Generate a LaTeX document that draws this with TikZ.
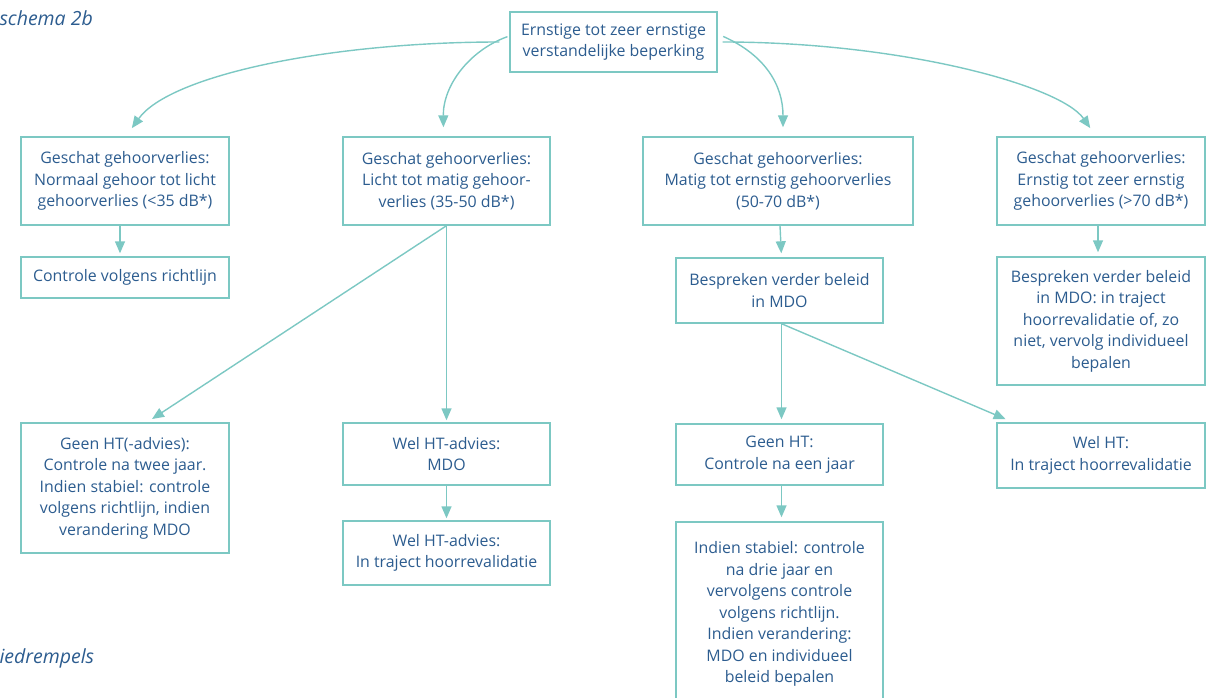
\documentclass[tikz,border=0pt]{standalone}
\usepackage{fontspec}
\setmainfont{Open Sans}
\usetikzlibrary{arrows.meta}
\definecolor{teal1}{HTML}{7CC8C3}
\definecolor{ink}{HTML}{2C5C8F}
\begin{document}
\begin{tikzpicture}[x=1pt,y=-1pt,
  every node/.style={font=\fontsize{15.9}{21.5}\selectfont,text=ink},
  box/.style={draw=teal1,line width=1.4pt,align=center,minimum width=208pt,inner sep=0pt},
  arr/.style={draw=teal1,line width=1.4pt,-{Triangle[length=12pt,width=10pt]}}]

  \clip (0,0) rectangle (1213,698);
  \useasboundingbox (0,0) rectangle (1213,698);

  % titels
  \node[anchor=west,font=\fontsize{19.5}{22}\selectfont\itshape] (title) at (-4,18) {schema 2b};
  \node[anchor=west,font=\fontsize{19.5}{22}\selectfont\itshape] (foot) at (-4,658) {iedrempels};

  % boxes
  \node[box,minimum width=207pt,minimum height=60pt] (top) at (613.5,42) {Ernstige tot zeer ernstige\\verstandelijke beperking};

  \node[box,minimum height=88pt] (a1) at (125,181) {Geschat gehoorverlies:\\Normaal gehoor tot licht\\gehoorverlies (<35 dB*)};
  \node[box,minimum width=207pt,minimum height=88pt] (a2) at (446.5,181) {Geschat gehoorverlies:\\Licht tot matig gehoor-\\verlies (35-50 dB*)};
  \node[box,minimum width=270pt,minimum height=88pt] (a3) at (778,181) {Geschat gehoorverlies:\\Matig tot ernstig gehoorverlies\\(50-70 dB*)};
  \node[box,minimum height=88pt] (a4) at (1101,181) {Geschat gehoorverlies:\\Ernstig tot zeer ernstig\\gehoorverlies (>70 dB*)};

  \node[box,minimum height=41pt] (b1) at (125,277.5) {Controle volgens richtlijn};
  \node[box,minimum width=207pt,minimum height=65pt] (b3) at (779.5,290.5) {Bespreken verder beleid\\in MDO};
  \node[box,minimum height=128pt] (b4) at (1101,321) {Bespreken verder beleid\\in MDO: in traject\\hoorrevalidatie of, zo\\niet, vervolg individueel\\bepalen};

  \node[box,minimum height=130pt] (c1) at (125,488) {Geen HT(-advies):\\Controle na twee jaar.\\Indien stabiel: controle\\volgens richtlijn, indien\\verandering MDO};
  \node[box,minimum width=207pt,minimum height=62pt] (c2) at (446.5,454) {Wel HT-advies:\\MDO};
  \node[box,minimum width=207pt,minimum height=64pt] (d2) at (446.5,553) {Wel HT-advies:\\In traject hoorrevalidatie};
  \node[box,minimum width=207pt,minimum height=61pt] (c3) at (779.5,454.5) {Geen HT:\\Controle na een jaar};
  \node[box,minimum width=207pt,minimum height=184pt] (d3) at (779.5,614) {Indien stabiel: controle\\na drie jaar en\\vervolgens controle\\volgens richtlijn.\\Indien verandering:\\MDO en individueel\\beleid bepalen};
  \node[box,minimum height=65pt] (c4) at (1101,455.5) {Wel HT:\\In traject hoorrevalidatie};

  % bogen vanuit de bovenste box
  \draw[arr,shorten <=10pt,shorten >=10pt] (top.west) .. controls (330,42) and (170,75) .. ([xshift=1pt]a1.north);
  \draw[arr,shorten <=2pt,shorten >=9pt] ([yshift=6pt]top.west) .. controls (470,50) and (443,85) .. ([xshift=-3pt]a2.north);
  \draw[arr,shorten <=6pt,shorten >=9pt] ([yshift=8pt]top.east) .. controls (765,55) and (783,85) .. ([xshift=5pt]a3.north);
  \draw[arr,shorten <=5pt,shorten >=10pt] (top.east) .. controls (900,42) and (1060,85) .. ([xshift=-5pt]a4.north);

  % kolom 1
  \draw[arr,shorten >=3pt] ([xshift=-5pt]a1.south) -- ([xshift=-5pt]b1.north);
  % kolom 2
  \draw[arr,shorten >=6pt] (a2.south) -- ([xshift=22pt]c1.north);
  \draw[arr,shorten >=2pt] (a2.south) -- (c2.north);
  \draw[arr,shorten >=2pt] (c2.south) -- (d2.north);
  % kolom 3
  \draw[arr,shorten >=4pt] ([xshift=2pt]a3.south) -- ([xshift=2pt]b3.north);
  \draw[arr,shorten >=4pt] ([xshift=2pt]b3.south) -- ([xshift=2pt]c3.north);
  \draw[arr,shorten >=8pt] ([xshift=2pt]b3.south) -- ([xshift=-88pt]c4.north);
  \draw[arr,shorten >=4pt] ([xshift=2pt]c3.south) -- ([xshift=2pt]d3.north);
  % kolom 4
  \draw[arr,shorten >=4pt] ([xshift=-3pt]a4.south) -- ([xshift=-3pt]b4.north);

\end{tikzpicture}
\end{document}
